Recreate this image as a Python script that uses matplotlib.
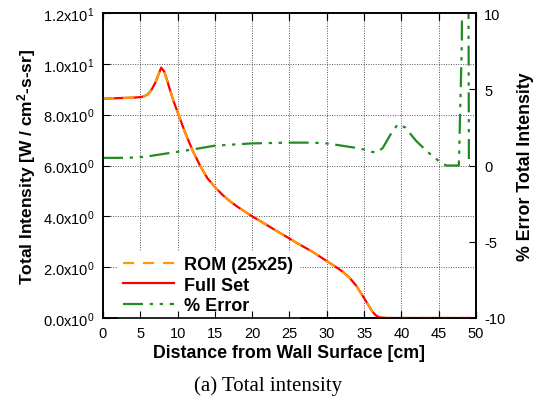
import numpy as np
import matplotlib
matplotlib.use("Agg")
import matplotlib.pyplot as plt
from matplotlib.ticker import FuncFormatter

plt.rcParams['font.family'] = ['Liberation Sans', 'DejaVu Sans']
plt.rcParams['mathtext.default'] = 'regular'
plt.rcParams['axes.unicode_minus'] = False

# full set intensity
x_full = [0, 1, 2, 3, 4, 5, 5.5, 6, 6.5, 7, 7.4, 7.8, 8.2, 8.6, 9, 9.5, 10, 10.5, 11, 12,
          13, 14, 15, 16, 17, 18, 20, 22, 24, 26, 28, 30, 31, 32, 33, 34, 35, 36, 36.5,
          37, 38, 40, 45, 49.2]
full = [8.63, 8.64, 8.65, 8.66, 8.67, 8.69, 8.72, 8.8, 8.98, 9.25, 9.55, 9.85, 9.7, 9.35,
        8.95, 8.5, 8.1, 7.7, 7.3, 6.6, 6.0, 5.5, 5.15, 4.85, 4.6, 4.38, 4.0, 3.65, 3.3,
        2.95, 2.62, 2.24, 2.05, 1.85, 1.6, 1.25, 0.78, 0.3, 0.12, 0.03, 0.0, 0.0, 0.0, 0.0]

# ROM (25x25) lies on top of the full set
x_rom = x_full
rom = [8.64, 8.64, 8.65, 8.66, 8.67, 8.69, 8.72, 8.8, 8.98, 9.25, 9.55, 9.83, 9.7, 9.35,
       8.95, 8.5, 8.1, 7.7, 7.3, 6.6, 6.0, 5.5, 5.15, 4.85, 4.6, 4.38, 4.0, 3.65, 3.3,
       2.95, 2.62, 2.24, 2.05, 1.85, 1.6, 1.25, 0.78, 0.3, 0.12, 0.03, 0.0, 0.0, 0.0, 0.0]

# percent error
x_err = [0, 2, 4, 5, 6, 8, 10, 12, 15, 20, 25, 28, 30, 32, 34, 35, 36, 36.7, 37.5, 38.5,
         39.5, 40.5, 42, 43.5, 45, 46, 47, 47.7, 48.1, 48.3, 48.9, 49.05, 49.2]
err = [0.5, 0.5, 0.52, 0.55, 0.6, 0.75, 0.9, 1.05, 1.3, 1.45, 1.5, 1.5, 1.45, 1.3, 1.15,
       1.05, 0.9, 0.85, 1.15, 2.0, 2.7, 2.5, 1.6, 0.9, 0.3, 0.0, 0.0, 0.0, 8.0, 30.0,
       30.0, 0.0, 0.0]

xticks = np.arange(0, 51, 5)
yticks = np.arange(0, 12.1, 2)
y2ticks = [-10, -5, 0, 5, 10]


def sci(v, pos):
    if v == 0:
        return r'0.0x10$^{0}$'
    e = int(np.floor(np.log10(abs(v))))
    return r'%.1fx10$^{%d}$' % (v / 10 ** e, e)


fig = plt.figure(figsize=(5.37, 4.06), dpi=100)
ax = fig.add_axes([0.1918, 0.2143, 0.6946, 0.7512])
ax2 = ax.twinx()

ax.plot(x_full, full, color='#ff0000', lw=1.6, zorder=3)
ax.plot(x_rom, rom, color='#ff9900', lw=1.6, dashes=(5, 4), zorder=4)
ax2.plot(x_err, err, color='#228b22', lw=1.6, dashes=(9, 3, 1.5, 3, 1.5, 3))

ax.set_xlim(0, 50)
ax.set_ylim(0, 12)
ax2.set_ylim(-10, 10)
ax.set_xticks(xticks)
ax.set_yticks(yticks)
ax2.set_yticks(y2ticks)
ax.yaxis.set_major_formatter(FuncFormatter(sci))
ax.grid(True, color='#555555', ls=(0, (1, 1.5)), lw=0.7)

ax.tick_params(axis='x', direction='in', top=True, length=5, labelsize=10.5, pad=6)
ax.tick_params(axis='y', direction='in', right=False, length=5, labelsize=10.5, pad=6)
ax2.tick_params(axis='y', direction='in', length=5, labelsize=10.5, pad=6)
# x ticks again on the twin so they stay above the legend box
ax2.xaxis.set_visible(True)
ax2.tick_params(axis='x', direction='in', bottom=True, top=True, length=5,
                labelbottom=False, labeltop=False)
for a in (ax, ax2):
    for s in a.spines.values():
        s.set_linewidth(1.2)

ax.set_xlabel('Distance from Wall Surface [cm]', fontsize=12.8, fontweight='bold', labelpad=3)
ax.set_ylabel(r'Total Intensity [W / cm$^{2}$-s-sr]', fontsize=12.5, fontweight='bold', labelpad=4)
ax2.set_ylabel('% Error Total Intensity', fontsize=12.8, fontweight='bold', labelpad=8)

h = [ax.lines[1], ax.lines[0], ax2.lines[0]]
leg = ax2.legend(h, ['ROM (25x25)', 'Full Set', '% Error'], loc='lower left',
                 bbox_to_anchor=(0.015, -0.035), frameon=True, fancybox=False,
                 handlelength=2.8, handletextpad=0.6, labelspacing=0.2,
                 borderpad=0.3, prop={'weight': 'bold', 'size': 13})
leg.get_frame().set_edgecolor('white')
leg.get_frame().set_facecolor('white')
leg.get_frame().set_alpha(1)
leg.set_zorder(1.4)  # white box under spines and ticks

fig.text(0.5, 0.05, '(a) Total intensity', ha='center', va='center',
         family='Liberation Serif', fontsize=15)

fig.savefig('out.png', dpi=100)
